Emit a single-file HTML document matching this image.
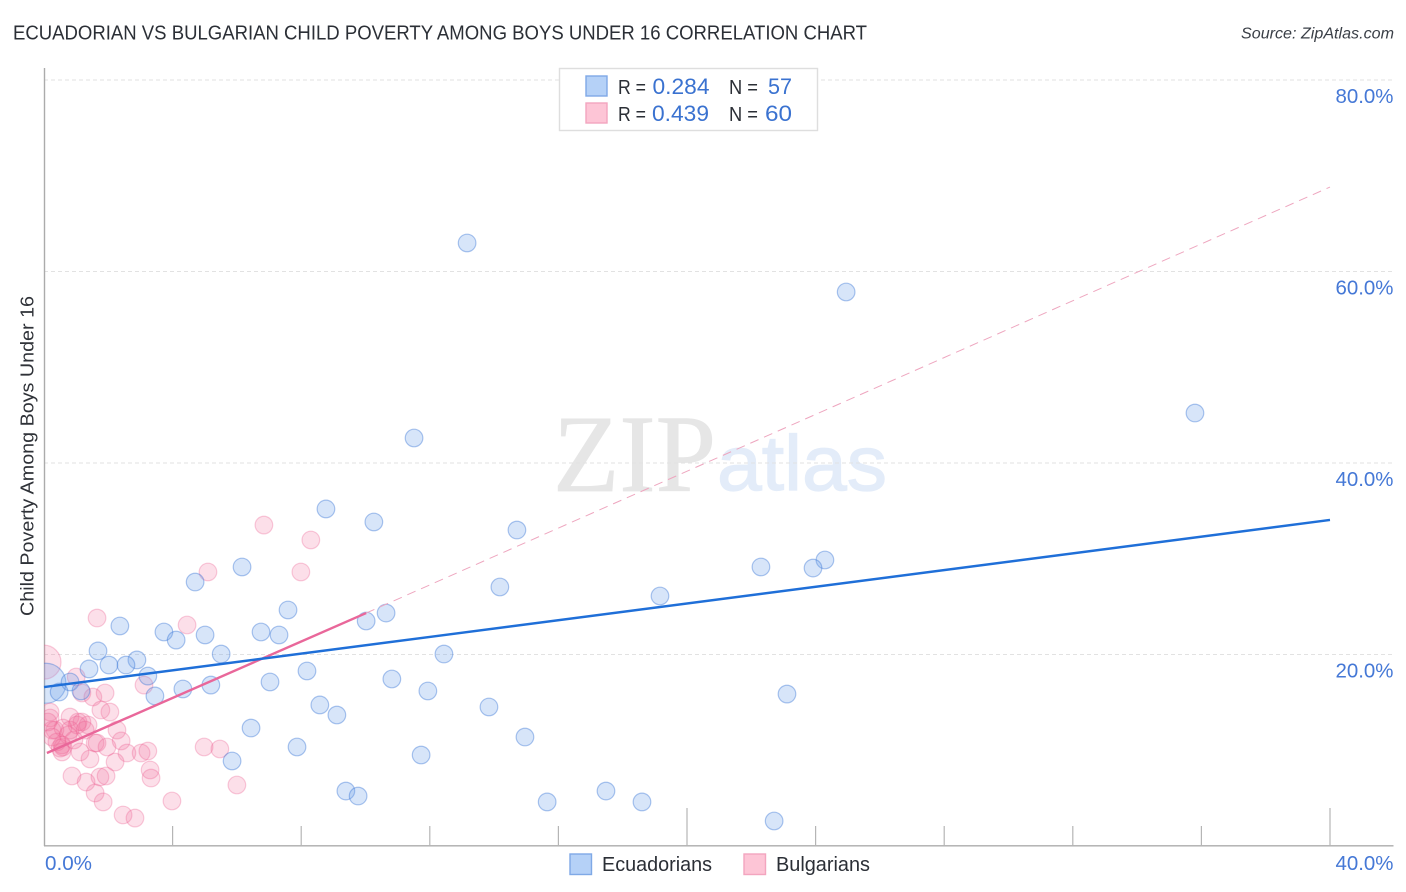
<!DOCTYPE html>
<html lang="en">
<head>
<meta charset="utf-8">
<title>Ecuadorian vs Bulgarian Child Poverty Among Boys Under 16 Correlation Chart</title>
<style>
html,body{margin:0;padding:0;background:#fff;width:1406px;height:892px;overflow:hidden}
svg{display:block;font-family:"Liberation Sans",sans-serif}
</style>
</head>
<body>
<svg id="chart" width="1406" height="892" viewBox="0 0 1406 892" xmlns="http://www.w3.org/2000/svg">
  <defs>
    <clipPath id="plot-clip"><rect x="44" y="68" width="1350" height="778"/></clipPath>
  </defs>
  <rect x="0" y="0" width="1406" height="892" fill="#ffffff"/>
  <text x="13" y="39.5" font-size="20" fill="#2b2f36" textLength="854" lengthAdjust="spacingAndGlyphs">ECUADORIAN VS BULGARIAN CHILD POVERTY AMONG BOYS UNDER 16 CORRELATION CHART</text>
  <text x="1394" y="38.5" font-size="15.5" font-style="italic" fill="#3a3f47" text-anchor="end" textLength="153" lengthAdjust="spacingAndGlyphs">Source: ZipAtlas.com</text>
  <g>
    <text x="553" y="491" font-family="'Liberation Serif',serif" font-size="110" fill="#e6e6e6" stroke="#e6e6e6" stroke-width="0.8" textLength="163" lengthAdjust="spacingAndGlyphs">ZIP</text>
    <text x="717" y="490" font-size="78" fill="#e3ecf9" stroke="#e3ecf9" stroke-width="1.2" textLength="170" lengthAdjust="spacingAndGlyphs">atlas</text>
  </g>
  <g id="grid"></g>
  <g id="axes"></g>
  <text transform="translate(33.5,456) rotate(-90)" font-size="18.5" fill="#2f3238" text-anchor="middle" textLength="320" lengthAdjust="spacingAndGlyphs">Child Poverty Among Boys Under 16</text>
  <g id="points" clip-path="url(#plot-clip)"></g>
  <g id="trends"></g>
  <g>
    <rect x="559.5" y="68.5" width="258" height="62" fill="#ffffff" stroke="#dedede" stroke-width="1.4"/>
    <rect x="586" y="76" width="21" height="20" fill="#b5d1f7" stroke="#7fa9e6" stroke-width="1.4"/>
    <rect x="586" y="103" width="21" height="20" fill="#fdc5d6" stroke="#f3a5bf" stroke-width="1.4"/>
    <text x="618" y="94" font-size="20" fill="#2b2f36" textLength="28" lengthAdjust="spacingAndGlyphs">R =</text>
    <text x="652.5" y="94" font-size="22" fill="#3a72d0" textLength="57" lengthAdjust="spacingAndGlyphs">0.284</text>
    <text x="729" y="94" font-size="20" fill="#2b2f36" textLength="29" lengthAdjust="spacingAndGlyphs">N =</text>
    <text x="768" y="94" font-size="22" fill="#3a72d0" textLength="24" lengthAdjust="spacingAndGlyphs">57</text>
    <text x="618" y="121" font-size="20" fill="#2b2f36" textLength="28" lengthAdjust="spacingAndGlyphs">R =</text>
    <text x="652" y="121" font-size="22" fill="#3a72d0" textLength="57" lengthAdjust="spacingAndGlyphs">0.439</text>
    <text x="729" y="121" font-size="20" fill="#2b2f36" textLength="29" lengthAdjust="spacingAndGlyphs">N =</text>
    <text x="765" y="121" font-size="22" fill="#3a72d0" textLength="27" lengthAdjust="spacingAndGlyphs">60</text>
  </g>
  <g>
    <rect x="570" y="854" width="21.5" height="20.5" fill="#b5d1f7" stroke="#7fa9e6" stroke-width="1.4"/>
    <text x="602" y="871" font-size="20" fill="#2b2f36" textLength="110" lengthAdjust="spacingAndGlyphs">Ecuadorians</text>
    <rect x="744" y="854" width="21.5" height="20.5" fill="#fdc5d6" stroke="#f3a5bf" stroke-width="1.4"/>
    <text x="776" y="871" font-size="20" fill="#2b2f36" textLength="94" lengthAdjust="spacingAndGlyphs">Bulgarians</text>
  </g>
</svg>
<script>
const yTickValues = [20, 40, 60, 80];
const yTickLabels = ["20.0%", "40.0%", "60.0%", "80.0%"];
const xTickValues = [0, 4, 8, 12, 16, 20, 24, 28, 32, 36, 40];
const xMajorTicks = [0, 20, 40];
const xEndLabels = ["0.0%", "40.0%"];
const xEndValues = [0, 40];

const ecuadorianX = [13.16,24.95,35.80,11.51,8.77,10.26,14.71,24.29,22.30,23.92,6.16,4.70,14.18,19.16,7.59,10.64,10.02,2.36,3.73,5.01,4.11,6.75,7.31,1.68,5.51,12.44,2.89,2.02,2.55,1.40,8.18,3.23,10.82,7.03,0.81,5.19,4.32,11.94,1.15,0.47,23.11,3.45,8.58,13.84,9.11,6.44,14.96,7.87,11.73,5.85,9.39,9.77,17.48,15.65,18.60,22.71];
const ecuadorianY = [62.98,57.86,45.22,42.61,35.20,33.84,33.00,29.87,29.14,29.03,29.14,27.57,27.05,26.11,24.65,24.33,23.50,22.98,22.35,22.04,21.51,22.35,22.04,20.37,20.05,20.05,19.43,18.90,18.90,18.49,18.28,17.75,17.44,17.13,17.13,16.81,16.40,16.19,16.19,16.08,15.87,15.67,14.73,14.52,13.68,12.32,11.38,10.34,9.50,8.88,5.74,5.22,5.74,4.60,4.60,2.61];
const ecuadorianLargeX = [0.06];
const ecuadorianLargeY = [17.0];

const bulgarianX = [1.65,4.45,5.10,7.99,8.30,6.84,1.00,3.11,1.18,1.52,1.90,1.77,2.05,0.19,0.19,0.81,1.06,1.18,1.37,1.03,1.28,0.34,0.59,2.27,2.40,1.59,1.65,0.40,0.56,0.59,0.50,0.56,1.96,1.12,1.43,2.58,3.02,3.23,2.21,3.30,3.33,0.87,1.31,1.74,1.93,1.59,1.84,3.98,2.46,2.83,4.98,5.47,6.00,0.25,0.12,0.75,0.25,0.93,0.81];
const bulgarianY = [23.81,23.08,28.62,28.62,31.96,33.52,17.65,16.81,15.98,15.56,15.98,14.20,13.99,13.99,13.37,13.47,12.95,12.95,12.64,12.64,12.11,12.11,12.32,12.11,10.97,10.76,10.76,10.86,10.55,10.34,10.23,9.82,10.34,9.82,9.09,9.71,9.71,9.92,8.77,7.94,7.10,7.31,6.68,7.21,7.31,5.54,4.60,4.70,3.24,2.92,10.34,10.13,6.37,12.11,12.95,11.59,11.38,11.07,12.11];
const bulgarianLargeX = [0];
const bulgarianLargeY = [19.2];

const ecuadorianTrendX = [0, 40];
const ecuadorianTrendY = [16.6, 34.05];
const bulgarianTrendX = [0.09, 10.02];
const bulgarianTrendY = [9.71, 24.33];
const bulgarianProjectionX = [10.02, 40];
const bulgarianProjectionY = [24.33, 68.82];

const NS = "http://www.w3.org/2000/svg";
function xScale(v) { return 44 + v * 32.15; }
function yScale(v) { return 846 - v * 9.575; }
function make(parent, tag, attrs) {
  const el = document.createElementNS(NS, tag);
  for (const k in attrs) el.setAttribute(k, attrs[k]);
  parent.appendChild(el);
  return el;
}

const grid = document.getElementById("grid");
const axes = document.getElementById("axes");
const points = document.getElementById("points");
const trends = document.getElementById("trends");

yTickValues.forEach(function (v, i) {
  const line = make(grid, "line", {x1: 44, x2: 1393, y1: yScale(v), y2: yScale(v), stroke: "#e2e2e2", "stroke-width": 1, "stroke-dasharray": "4 3"});
  
  
  const label = make(axes, "text", {x: 1393.5, y: yScale(v) + 23, "font-size": 20, fill: "#4578d6", "text-anchor": "end", textLength: 58, lengthAdjust: "spacingAndGlyphs"});
  label.textContent = yTickLabels[i];
  
  
});

const yAxis = make(axes, "line", {x1: 44.5, x2: 44.5, y1: 68, y2: 846, stroke: "#ababab", "stroke-width": 1.4});


const xAxis = make(axes, "line", {x1: 44, x2: 1393.5, y1: 845.8, y2: 845.8, stroke: "#ababab", "stroke-width": 1.4});



xTickValues.forEach(function (v) {
  if (v === 0) return;
  const top = xMajorTicks.indexOf(v) >= 0 ? 808 : 826;
  const tick = make(axes, "line", {x1: xScale(v), x2: xScale(v), y1: top, y2: 846, stroke: "#b5b5b5", "stroke-width": 1.2});
  
  
});

xEndValues.forEach(function (v, i) {
  const label = make(axes, "text", {x: v === 0 ? 45 : 1393.5, y: 870, "font-size": 20, fill: "#4578d6", "text-anchor": v === 0 ? "start" : "end", textLength: v === 0 ? 47 : 58, lengthAdjust: "spacingAndGlyphs"});
  label.textContent = xEndLabels[i];
  
  
});

function drawSeries(xs, ys, r, fill, stroke) {
  xs.forEach(function (x, i) {
    const c = make(points, "circle", {cx: xScale(x), cy: yScale(ys[i]), r: r, fill: fill, "stroke": stroke, "stroke-width": 1.2});
    
    
  });
}
const blueFill = "rgba(110,160,235,0.28)", blueStroke = "rgba(60,120,215,0.42)";
const pinkFill = "rgba(240,110,155,0.22)", pinkStroke = "rgba(235,95,145,0.32)";
drawSeries(bulgarianLargeX, bulgarianLargeY, 17, pinkFill, pinkStroke);
drawSeries(ecuadorianLargeX, ecuadorianLargeY, 20, blueFill, blueStroke);
drawSeries(bulgarianX, bulgarianY, 8.8, pinkFill, pinkStroke);
drawSeries(ecuadorianX, ecuadorianY, 8.8, blueFill, blueStroke);

const projection = make(trends, "line", {x1: xScale(bulgarianProjectionX[0]), y1: yScale(bulgarianProjectionY[0]), x2: xScale(bulgarianProjectionX[1]), y2: yScale(bulgarianProjectionY[1]), stroke: "#eea6bf", "stroke-width": 1, "stroke-dasharray": "9 6"});


const pinkTrend = make(trends, "line", {x1: xScale(bulgarianTrendX[0]), y1: yScale(bulgarianTrendY[0]), x2: xScale(bulgarianTrendX[1]), y2: yScale(bulgarianTrendY[1]), stroke: "#e9679a", "stroke-width": 2.4});


const blueTrend = make(trends, "line", {x1: xScale(ecuadorianTrendX[0]), y1: yScale(ecuadorianTrendY[0]), x2: xScale(ecuadorianTrendX[1]), y2: yScale(ecuadorianTrendY[1]), stroke: "#1f6fd8", "stroke-width": 2.4});


</script>
</body>
</html>
